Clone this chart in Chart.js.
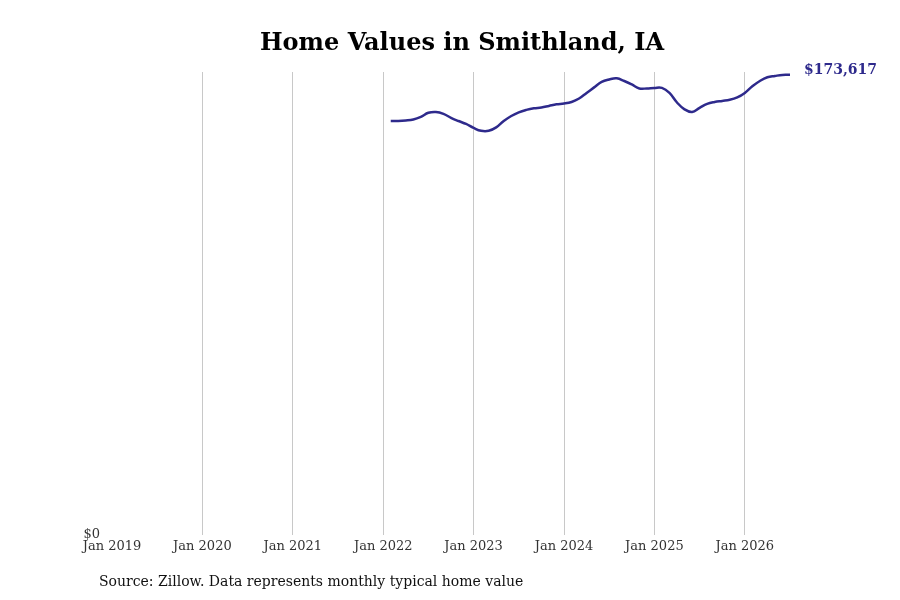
<!DOCTYPE html>
<html>
<head>
<meta charset="utf-8">
<script src="https://cdn.jsdelivr.net/npm/chart.js@4/dist/chart.umd.min.js"></script>
<style>
  body { margin: 0; background: #fff; }
  #wrap { position: relative; width: 900px; height: 600px; }
  #source { position: absolute; left: 99px; top: 573px; font: 14px "DejaVu Serif", serif; color: #111; }
</style>
</head>
<body>
<div id="wrap">
  <canvas id="chart" width="900" height="600"></canvas>
  <div id="source">Source: Zillow. Data represents monthly typical home value</div>
</div>
<script>
// months since Jan 2019; first point is Feb 2022
const startMonth = 37;
const homeValues = [
    156200, 156200, 156400, 156800, 157800, 159300, 159600, 158900, 157400, 156200, 155100,
    153600, 152500, 152500, 153800, 156200, 158100, 159500, 160400, 161000, 161300, 161900, 162500,
    162800, 163400, 164700, 166800, 168900, 171000, 171900, 172300, 171300, 170000, 168500, 168500,
    168700, 168700, 166800, 163200, 160600, 159600, 161200, 162700, 163400, 163800, 164200, 165100,
    166800, 169300, 171300, 172700, 173200, 173600, 173617
];
const yearLabels = ['Jan 2019', 'Jan 2020', 'Jan 2021', 'Jan 2022', 'Jan 2023', 'Jan 2024', 'Jan 2025', 'Jan 2026'];
const lineColor = '#2e2a8c';

const points = homeValues.map((v, i) => ({ x: startMonth + i, y: v }));

const titlePlugin = {
    id: 'titleAndLabel',
    afterDraw(chart) {
        const ctx = chart.ctx;
        ctx.save();
        ctx.fillStyle = '#000';
        ctx.font = 'bold 24px "DejaVu Serif", serif';
        ctx.textAlign = 'center';
        ctx.textBaseline = 'middle';
        ctx.fillText('Home Values in Smithland, IA', 462, 44);

        const meta = chart.getDatasetMeta(0);
        const last = meta.data[meta.data.length - 1];
        const val = homeValues[homeValues.length - 1];
        ctx.fillStyle = lineColor;
        ctx.font = 'bold 14px "DejaVu Serif", serif';
        ctx.textAlign = 'left';
        ctx.fillText('$' + val.toLocaleString('en-US'), last.x + 14, last.y - 5);
        ctx.restore();
    }
};

new Chart(document.getElementById('chart'), {
    type: 'line',
    data: {
        datasets: [{
            data: points,
            borderColor: lineColor,
            borderWidth: 2.5,
            pointRadius: 0,
            tension: 0.4,
            fill: false
        }]
    },
    options: {
        responsive: false,
        animation: false,
        layout: { padding: { top: 72, right: 110 } },
        plugins: { legend: { display: false }, tooltip: { enabled: false } },
        scales: {
            x: {
                type: 'linear',
                min: 0,
                max: 90,
                border: { display: false },
                afterBuildTicks: s => { s.ticks = yearLabels.map((_, i) => ({ value: i * 12 })); },
                afterFit: s => { s.height = 65; },
                grid: {
                    color: c => c.tick && c.tick.value === 0 ? 'rgba(0,0,0,0)' : '#c8c8c8',
                    drawTicks: false
                },
                ticks: {
                    padding: 4,
                    maxRotation: 0,
                    color: '#333',
                    font: { family: '"DejaVu Serif", serif', size: 13 },
                    callback: v => yearLabels[v / 12]
                }
            },
            y: {
                min: 0,
                max: 174700,
                border: { display: false },
                afterBuildTicks: s => { s.ticks = [{ value: 0 }]; },
                afterFit: s => { s.width = 112; },
                grid: { display: false },
                ticks: {
                    padding: 4,
                    color: '#333',
                    font: { family: '"DejaVu Serif", serif', size: 13 },
                    callback: v => '$' + v
                }
            }
        }
    },
    plugins: [titlePlugin]
});
</script>
</body>
</html>
